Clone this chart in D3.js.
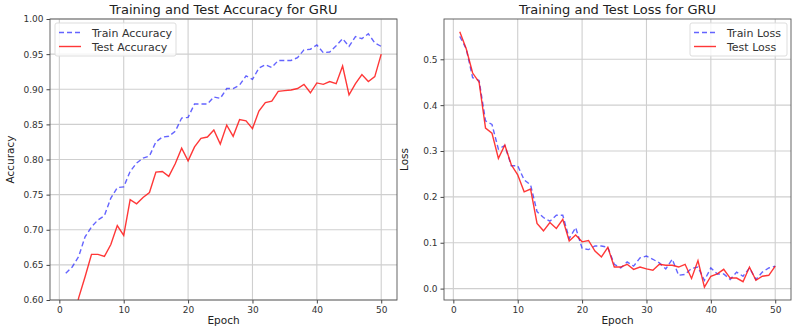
<!DOCTYPE html>
<html><head><meta charset="utf-8">
<script src="https://cdn.jsdelivr.net/npm/d3@7"></script>
<style>
body{margin:0;background:#fff;}
svg{display:block;font-family:"DejaVu Sans",sans-serif;}
</style></head>
<body><svg id="c" width="797" height="332"></svg>
<script>
const epochs = d3.range(1, 51);
const trainAcc = [0.638,0.647,0.662,0.690,0.704,0.714,0.720,0.745,0.760,0.761,
0.783,0.795,0.802,0.805,0.825,0.832,0.833,0.840,0.859,0.860,
0.879,0.879,0.879,0.889,0.887,0.901,0.901,0.906,0.919,0.914,
0.930,0.935,0.931,0.941,0.941,0.941,0.945,0.956,0.957,0.963,
0.952,0.953,0.962,0.972,0.961,0.975,0.972,0.979,0.966,0.961];
const testAcc = [0.52,0.56,0.603,0.633,0.665,0.665,0.662,0.679,0.706,0.692,
0.743,0.737,0.746,0.753,0.782,0.783,0.776,0.794,0.816,0.798,
0.818,0.830,0.832,0.842,0.822,0.849,0.833,0.857,0.855,0.844,
0.869,0.881,0.883,0.897,0.898,0.899,0.901,0.907,0.895,0.909,
0.907,0.911,0.908,0.933,0.892,0.908,0.921,0.911,0.918,0.950];
const trainLoss = [0.550,0.523,0.460,0.454,0.366,0.358,0.304,0.312,0.268,0.268,
0.237,0.226,0.168,0.155,0.147,0.160,0.160,0.109,0.133,0.088,
0.085,0.093,0.093,0.090,0.053,0.045,0.058,0.049,0.067,0.071,
0.064,0.056,0.043,0.064,0.029,0.031,0.044,0.047,0.018,0.045,
0.032,0.032,0.020,0.036,0.027,0.045,0.020,0.036,0.045,0.049];
const testLoss = [0.560,0.523,0.470,0.450,0.350,0.339,0.284,0.313,0.270,0.248,
0.211,0.217,0.142,0.126,0.144,0.131,0.151,0.104,0.117,0.102,
0.105,0.082,0.069,0.090,0.047,0.047,0.053,0.042,0.047,0.043,
0.040,0.053,0.051,0.051,0.047,0.053,0.022,0.061,0.003,0.027,
0.032,0.042,0.023,0.023,0.015,0.047,0.018,0.027,0.029,0.049];
const xTicks = [0,10,20,30,40,50];
const accTicks = [0.60,0.65,0.70,0.75,0.80,0.85,0.90,0.95,1.00];
const lossTicks = [0.0,0.1,0.2,0.3,0.4,0.5];

const svg = d3.select("#c");
svg.append("rect").attr("width",797).attr("height",332).attr("fill","#fff");

function panel(opt){
  const {x0,x1,y0,y1,yDomain,yTicks,yFmt,title,ylabel,series,legend} = opt;
  const g = svg.append("g");
  const xs = d3.scaleLinear().domain([-1.45,52.45]).range([x0,x1]);
  const ys = d3.scaleLinear().domain(yDomain).range([y1,y0]);
  const id = "clip"+x0;
  svg.append("clipPath").attr("id",id).append("rect")
    .attr("x",x0).attr("y",y0).attr("width",x1-x0).attr("height",y1-y0);
  g.append("g").selectAll("line").data(xTicks).join("line")
    .attr("x1",d=>xs(d)).attr("x2",d=>xs(d)).attr("y1",y0).attr("y2",y1)
    .attr("stroke","#cfcfcf").attr("stroke-width",1.1);
  g.append("g").selectAll("line").data(yTicks).join("line")
    .attr("y1",d=>ys(d)).attr("y2",d=>ys(d)).attr("x1",x0).attr("x2",x1)
    .attr("stroke","#cfcfcf").attr("stroke-width",1.1);
  const line = d3.line().x((d,i)=>xs(epochs[i])).y(d=>ys(d));
  series.forEach(s=>{
    g.append("path").datum(s.data).attr("d",line).attr("fill","none")
      .attr("clip-path",`url(#${id})`)
      .attr("stroke",s.color).attr("stroke-width",1.4)
      .attr("stroke-dasharray",s.dash||null);
  });
  const ax = g.append("g").attr("transform",`translate(0,${y1})`)
    .call(d3.axisBottom(xs).tickValues(xTicks).tickSize(3.5).tickPadding(3).tickFormat(d3.format("d")));
  const ay = g.append("g").attr("transform",`translate(${x0},0)`)
    .call(d3.axisLeft(ys).tickValues(yTicks).tickSize(3.5).tickPadding(3).tickFormat(yFmt));
  [ax,ay].forEach(a=>{
    a.select(".domain").remove();
    a.selectAll("line").attr("stroke","#444");
    a.selectAll("text").attr("fill","#333").style("font-size","9px").style("font-family","DejaVu Sans");
  });
  g.append("rect").attr("x",x0).attr("y",y0).attr("width",x1-x0).attr("height",y1-y0)
    .attr("fill","none").attr("stroke","#555").attr("stroke-width",0.9);
  g.append("text").attr("x",(x0+x1)/2).attr("y",y0-5).attr("text-anchor","middle")
    .attr("fill","#222").style("font-size","13px").text(title);
  g.append("text").attr("x",(x0+x1)/2).attr("y",y1+24).attr("text-anchor","middle")
    .attr("fill","#222").style("font-size","10.5px").text("Epoch");
  g.append("text").attr("transform",`translate(${x0-36},${(y0+y1)/2}) rotate(-90)`)
    .attr("text-anchor","middle").attr("fill","#222").style("font-size","10.5px").text(ylabel);
  const L = legend;
  g.append("rect").attr("x",L.x).attr("y",L.y).attr("width",L.w).attr("height",33)
    .attr("rx",2).attr("fill","#fff").attr("fill-opacity",0.8).attr("stroke","#ddd");
  series.forEach((s,i)=>{
    const yy = L.y + 9.5 + i*14;
    g.append("line").attr("x1",L.x+4).attr("x2",L.x+26).attr("y1",yy).attr("y2",yy)
      .attr("stroke",s.color).attr("stroke-width",1.4).attr("stroke-dasharray",s.dash||null);
    g.append("text").attr("x",L.x+37).attr("y",yy+4).attr("fill","#333")
      .style("font-size","11px").text(s.name);
  });
}

const blue = "rgba(40,40,255,0.72)", red = "rgba(255,20,20,0.85)";
panel({x0:50,x1:397,y0:19,y1:300,yDomain:[0.6,1.0],yTicks:accTicks,yFmt:d3.format(".2f"),
  title:"Training and Test Accuracy for GRU",ylabel:"Accuracy",
  series:[{name:"Train Accuracy",data:trainAcc,color:blue,dash:"5,3"},
          {name:"Test Accuracy",data:testAcc,color:red}],
  legend:{x:55,y:23,w:121}});
const lmin = d3.min([...trainLoss,...testLoss]), lmax = d3.max([...trainLoss,...testLoss]);
const pad = (lmax-lmin)*0.05;
panel({x0:444,x1:791,y0:19,y1:300,yDomain:[lmin-pad,lmax+pad],yTicks:lossTicks,yFmt:d3.format(".1f"),
  title:"Training and Test Loss for GRU",ylabel:"Loss",
  series:[{name:"Train Loss",data:trainLoss,color:blue,dash:"5,3"},
          {name:"Test Loss",data:testLoss,color:red}],
  legend:{x:690,y:23,w:97}});
</script></body></html>
